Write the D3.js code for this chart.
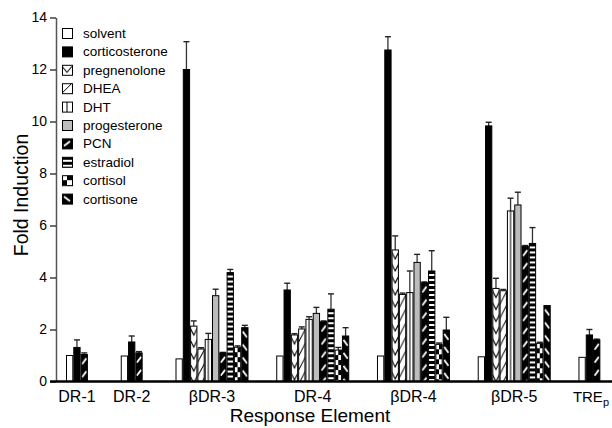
<!DOCTYPE html>
<html>
<head>
<meta charset="utf-8">
<script src="https://cdn.jsdelivr.net/npm/d3@7"></script>
<style>
  body { margin: 0; background: #fff; }
  svg { display: block; font-family: "Liberation Sans", Arial, Helvetica, sans-serif; }
</style>
</head>
<body>
<svg id="chart" width="612" height="428"></svg>
<script>
// ------------------------------------------------------------
// Data
// ------------------------------------------------------------
var compounds = ["solvent", "corticosterone", "pregnenolone", "DHEA", "DHT",
  "progesterone", "PCN", "estradiol", "cortisol", "cortisone"];

var categories = ["DR-1", "DR-2", "\u03b2DR-3", "DR-4", "\u03b2DR-4", "\u03b2DR-5", "TREp"];

var shortSet = ["solvent", "corticosterone", "PCN"];

var dr1Values = [1.0, 1.31, 1.04];
var dr1Errors = [0, 0.29, 0.06];
var dr2Values = [0.98, 1.52, 1.1];
var dr2Errors = [0, 0.23, 0.05];
var bdr3Values = [0.87, 12.0, 2.13, 1.25, 1.62, 3.3, 1.1, 4.19, 1.32, 2.07];
var bdr3Errors = [0, 1.07, 0.2, 0.05, 0.23, 0.25, 0.02, 0.12, 0.05, 0.09];
var dr4Values = [0.98, 3.52, 1.79, 2.02, 2.39, 2.62, 2.3, 2.78, 1.21, 1.75];
var dr4Errors = [0, 0.26, 0.05, 0.08, 0.1, 0.23, 0.03, 0.59, 0.1, 0.32];
var bdr4Values = [0.98, 12.75, 5.06, 3.35, 3.42, 4.58, 3.8, 4.25, 1.43, 1.98];
var bdr4Errors = [0, 0.51, 0.54, 0.05, 0.83, 0.31, 0.03, 0.78, 0.05, 0.49];
var bdr5Values = [0.95, 9.83, 3.58, 3.49, 6.56, 6.79, 5.2, 5.31, 1.47, 2.92];
var bdr5Errors = [0, 0.14, 0.39, 0.05, 0.49, 0.49, 0.03, 0.61, 0.04, 0];
var trepValues = [0.93, 1.79, 1.6];
var trepErrors = [0, 0.21, 0.03];

var yTicks = [0, 2, 4, 6, 8, 10, 12, 14];

var groups = [
  { name: categories[0], keys: shortSet, values: dr1Values, errors: dr1Errors },
  { name: categories[1], keys: shortSet, values: dr2Values, errors: dr2Errors },
  { name: categories[2], keys: compounds, values: bdr3Values, errors: bdr3Errors },
  { name: categories[3], keys: compounds, values: dr4Values, errors: dr4Errors },
  { name: categories[4], keys: compounds, values: bdr4Values, errors: bdr4Errors },
  { name: categories[5], keys: compounds, values: bdr5Values, errors: bdr5Errors },
  { name: categories[6], keys: shortSet, values: trepValues, errors: trepErrors }
];

// ------------------------------------------------------------
// Layout
// ------------------------------------------------------------
var barUnit = 7.3,
  firstBarX = 66,
  axisX = 56,
  gapShort = 4.5,
  gapLong = 3.8;

var start = 0;
groups.forEach(function(g) {
  g.start = start;
  start += g.keys.length + (g.keys.length === 3 ? gapShort : gapLong);
});
var totalUnits = groups[groups.length - 1].start + groups[groups.length - 1].keys.length;

var x = d3.scaleLinear().domain([0, totalUnits]).range([firstBarX, firstBarX + totalUnits * barUnit]);
var y = d3.scaleLinear().domain([0, 14]).range([381.5, 17.5]);
var bw = x(1) - x(0);

var svg = d3.select("#chart");
var defs = svg.append("defs");

// pattern tiles; w is the tile width so every bar starts on a whole tile
function definePattern(id, kind, w, h) {
  var p = defs.append("pattern")
    .attr("id", id)
    .attr("patternUnits", "userSpaceOnUse")
    .attr("width", w)
    .attr("height", h);
  var bg = (kind === "PCN" || kind === "estradiol" || kind === "cortisol" || kind === "cortisone") ? "#000" : "#fff";
  p.append("rect").attr("width", w).attr("height", h).attr("fill", bg);

  if (kind === "pregnenolone") {
    p.append("path").attr("d", "M0," + (h * 0.15) + "L" + (w / 2) + "," + (h * 0.75) + "L" + w + "," + (h * 0.15))
      .attr("fill", "none").attr("stroke", "#000").attr("stroke-width", 1.1);
  } else if (kind === "DHEA") {
    p.append("path").attr("d", "M0," + h + "L" + w + ",0")
      .attr("fill", "none").attr("stroke", "#000").attr("stroke-width", 1);
  } else if (kind === "DHT") {
    p.append("path").attr("d", "M" + (w / 2) + ",0V" + h)
      .attr("fill", "none").attr("stroke", "#000").attr("stroke-width", 1);
  } else if (kind === "PCN") {
    p.append("path").attr("d", "M" + (w * 0.2) + "," + (h * 0.75) + "L" + (w * 0.8) + "," + (h * 0.3))
      .attr("stroke", "#fff").attr("stroke-width", 1.8);
  } else if (kind === "estradiol") {
    p.append("rect").attr("y", h * 0.6).attr("width", w).attr("height", h * 0.4).attr("fill", "#fff");
  } else if (kind === "cortisol") {
    p.append("rect").attr("width", w / 2).attr("height", h / 2).attr("fill", "#fff");
    p.append("rect").attr("x", w / 2).attr("y", h / 2).attr("width", w / 2).attr("height", h / 2).attr("fill", "#fff");
  } else if (kind === "cortisone") {
    p.append("path").attr("d", "M" + (w * 0.2) + "," + (h * 0.3) + "L" + (w * 0.8) + "," + (h * 0.75))
      .attr("stroke", "#fff").attr("stroke-width", 1.8);
  }
}

var tileHeights = { pregnenolone: 12, DHEA: 14, DHT: 10, PCN: 13, estradiol: 5, cortisol: 10, cortisone: 13 };

function fillFor(key, prefix) {
  if (key === "solvent") return "#fff";
  if (key === "corticosterone") return "#000";
  if (key === "progesterone") return "#bcbcbc";
  return "url(#" + prefix + "-" + key + ")";
}

compounds.forEach(function(k) {
  if (tileHeights[k]) {
    definePattern("bar-" + k, k, bw, tileHeights[k]);
    definePattern("leg-" + k, k, 10, k === "estradiol" ? 5 : 10);
  }
});

// ------------------------------------------------------------
// Bars
// ------------------------------------------------------------
var barsG = svg.append("g").attr("class", "bars");

groups.forEach(function(g) {
  g.keys.forEach(function(k, j) {
    var v = g.values[j], e = g.errors[j];
    var bar = barsG.append("g")
      .attr("transform", "translate(" + x(g.start + j) + "," + y(v) + ")");

    if (e > 0) {
      bar.append("line")
        .attr("x1", bw / 2).attr("x2", bw / 2)
        .attr("y1", 0).attr("y2", y(v + e) - y(v))
        .attr("stroke", "#333").attr("stroke-width", 1.3);
      bar.append("line")
        .attr("x1", bw / 2 - 3).attr("x2", bw / 2 + 3)
        .attr("y1", y(v + e) - y(v)).attr("y2", y(v + e) - y(v))
        .attr("stroke", "#222").attr("stroke-width", 1.4);
    }

    bar.append("rect")
      .attr("x", 0.5).attr("y", 0)
      .attr("width", bw - 1)
      .attr("height", y(0) - y(v))
      .attr("fill", fillFor(k, "bar"))
      .attr("stroke", "#000")
      .attr("stroke-width", 1);
  });
});

// ------------------------------------------------------------
// Axes
// ------------------------------------------------------------
var yAxis = d3.axisLeft(y).tickValues(yTicks).tickSize(6).tickSizeOuter(0).tickPadding(3);
var yG = svg.append("g")
  .attr("transform", "translate(" + axisX + ",0)")
  .call(yAxis);
yG.select(".domain").attr("stroke", "#555").attr("stroke-width", 1.5);
yG.selectAll(".tick line").attr("stroke", "#222").attr("stroke-width", 1.3);
yG.selectAll(".tick text")
  .attr("font-size", 14)
  .attr("font-family", "Liberation Sans, Arial, sans-serif")
  .attr("fill", "#000");

// baseline
svg.append("line")
  .attr("x1", 50).attr("x2", 612)
  .attr("y1", y(0)).attr("y2", y(0))
  .attr("stroke", "#000").attr("stroke-width", 2.5);

// category labels
var labels = svg.append("g").attr("font-size", 16).attr("text-anchor", "middle");
groups.forEach(function(g) {
  var cx = x(g.start + g.keys.length / 2);
  var t = labels.append("text").attr("x", cx).attr("y", 402);
  if (g.name === "TREp") {
    t.attr("text-anchor", "end").attr("x", 609).attr("font-size", 15);
    t.append("tspan").text("TRE");
    t.append("tspan").attr("font-size", 11).attr("dy", 4).text("p");
  } else {
    t.text(g.name);
  }
});

svg.append("text")
  .attr("x", 310).attr("y", 422)
  .attr("text-anchor", "middle")
  .attr("font-size", 19)
  .text("Response Element");

svg.append("text")
  .attr("transform", "translate(28,195) rotate(-90)")
  .attr("text-anchor", "middle")
  .attr("font-size", 19.5)
  .text("Fold Induction");

// ------------------------------------------------------------
// Legend
// ------------------------------------------------------------
var legend = svg.append("g").attr("transform", "translate(62,28)");
compounds.forEach(function(k, i) {
  var row = legend.append("g").attr("transform", "translate(0," + (i * 18.4) + ")");
  row.append("rect")
    .attr("x", 0.5).attr("y", 0.5)
    .attr("width", 10).attr("height", 10)
    .attr("fill", fillFor(k, "leg"))
    .attr("stroke", "#000").attr("stroke-width", 1);
  row.append("text")
    .attr("x", 21).attr("y", 10)
    .attr("font-size", 13.5)
    .text(k);
});
</script>
</body>
</html>
